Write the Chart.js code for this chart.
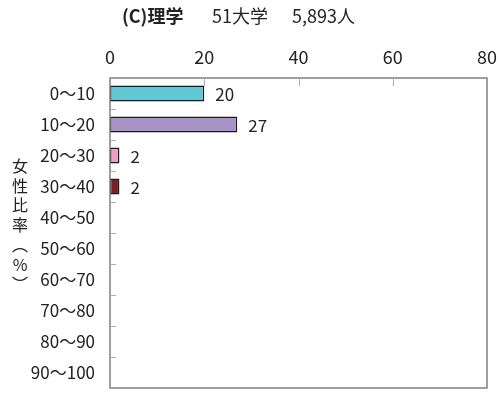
<!DOCTYPE html>
<html><head><meta charset="utf-8">
<script src="https://cdn.jsdelivr.net/npm/chart.js@4"></script>
<style>html,body{margin:0;padding:0;background:#fff}#c{display:block}</style>
</head><body>
<div style="width:501px;height:396px"><canvas id="c" width="501" height="396"></canvas></div>
<script>
const categories = ["0～10","10～20","20～30","30～40","40～50","50～60","60～70","70～80","80～90","90～100"];
const values = [20, 27, 2, 2, 0, 0, 0, 0, 0, 0];
const barColors = ["#62C8D6","#A893C6","#F09CC8","#7A2026","#5B9BD5","#ED7D31","#A5A5A5","#FFC000","#4472C4","#70AD47"];
const xTicks = [0, 20, 40, 60, 80];
const titleParts = ["(C)理学", "51大学", "5,893人"];
const yTitleChars = ["女","性","比","率","︵","%","︶"];

const FONT = '"Noto Sans CJK JP",sans-serif';

const deco = {
  id: 'deco',
  afterDraw(chart) {
    const {ctx, chartArea: a, scales: {x, y}} = chart;
    ctx.save();
    ctx.strokeStyle = '#808080';
    ctx.lineWidth = 1.5;
    ctx.strokeRect(a.left, a.top, a.right - a.left, a.bottom - a.top);
    ctx.lineWidth = 1;
    ctx.strokeStyle = '#aaa';
    ctx.beginPath();
    xTicks.slice(1, -1).forEach(v => {
      const px = Math.round(x.getPixelForValue(v)) + 0.5;
      ctx.moveTo(px, a.top); ctx.lineTo(px, a.top + 8);
    });
    for (let i = 0; i < categories.length - 1; i++) {
      const py = Math.round((y.getPixelForValue(i) + y.getPixelForValue(i + 1)) / 2) + 0.5;
      ctx.moveTo(a.left, py); ctx.lineTo(a.left + 6, py);
    }
    ctx.stroke();
    // value labels
    ctx.fillStyle = '#222';
    ctx.font = '17px ' + FONT;
    ctx.textBaseline = 'middle';
    ctx.textAlign = 'left';
    const meta = chart.getDatasetMeta(0);
    values.forEach((v, i) => {
      if (!v) return;
      const el = meta.data[i];
      ctx.fillText(String(v), el.x + 11, el.y + 1);
    });
    // title (three parts, wide gaps as in the original)
    const tx = [122, 212, 292];
    titleParts.forEach((t, i) => {
      ctx.font = (i === 0 ? 'bold ' : '') + '18px "Noto Sans CJK JP",sans-serif';
      ctx.fillText(t, tx[i], 16);
    });
    // y title
    ctx.font = '16px "Noto Sans CJK JP",sans-serif';
    ctx.textAlign = 'center';
    yTitleChars.forEach((ch, i) => {
      ctx.fillText(ch, 20, 166 + i * 19.7);
    });
    ctx.restore();
  }
};

new Chart(document.getElementById('c'), {
  type: 'bar',
  data: {
    labels: categories,
    datasets: [{
      data: values.map(v => v || null),
      backgroundColor: barColors,
      borderColor: '#1a1a1a',
      borderWidth: 1.5,
      borderSkipped: false,
      barPercentage: 0.52,
      categoryPercentage: 1
    }]
  },
  options: {
    indexAxis: 'y',
    responsive: false,
    animation: false,
    layout: {padding: {left: 0, right: 14, top: 0, bottom: 8}},
    plugins: {legend: {display: false}, tooltip: {enabled: false}, title: {display: false}},
    scales: {
      x: {
        position: 'top',
        min: 0, max: 80,
        afterBuildTicks(s) { s.ticks = xTicks.map(v => ({value: v})); },
        afterFit(s) { s.height = 78; s.paddingLeft = 0; s.paddingRight = 0; },
        grid: {display: false, drawTicks: false},
        border: {display: false},
        ticks: {color: '#222', font: {size: 18, family: FONT}, padding: 10, maxRotation: 0}
      },
      y: {
        afterFit(s) { s.width = 110; s.paddingTop = 0; s.paddingBottom = 0; },
        grid: {display: false, drawTicks: false},
        border: {display: false},
        ticks: {color: '#222', font: {size: 17, family: FONT}, padding: 15, autoSkip: false}
      }
    }
  },
  plugins: [deco]
});
</script>
</body></html>
